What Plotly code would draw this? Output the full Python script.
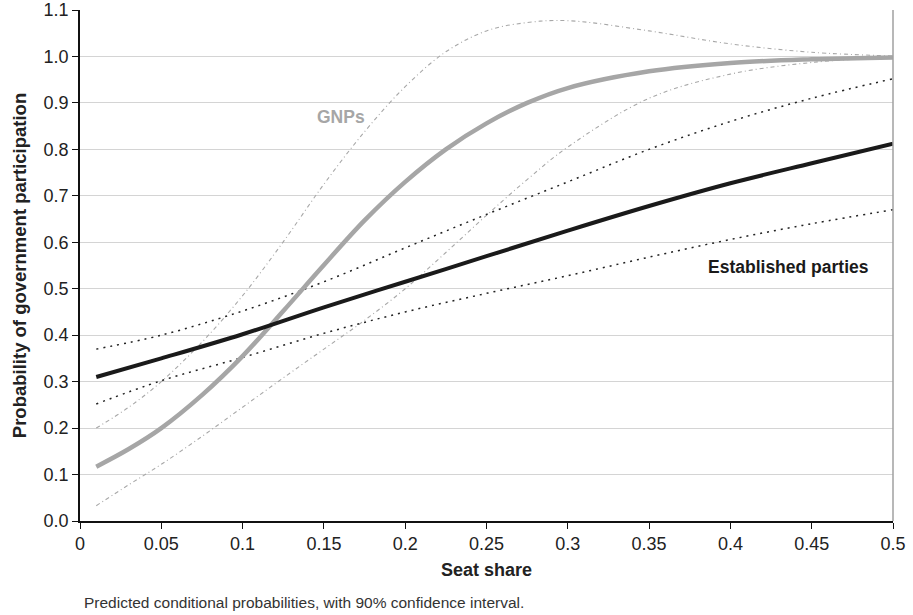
import plotly.graph_objects as go

# Seat share values (x) for each series
x_est = [0.01, 0.05, 0.1, 0.15, 0.2, 0.25, 0.3, 0.35, 0.4, 0.45, 0.5]
est_mean = [0.31, 0.35, 0.402, 0.46, 0.515, 0.57, 0.625, 0.678, 0.727, 0.77, 0.812]
est_upper = [0.37, 0.40, 0.452, 0.515, 0.588, 0.66, 0.73, 0.80, 0.86, 0.91, 0.952]
est_lower = [0.252, 0.302, 0.352, 0.404, 0.45, 0.49, 0.528, 0.568, 0.606, 0.64, 0.67]

x_gnp = [0.01, 0.03, 0.05, 0.075, 0.1, 0.125, 0.15, 0.175, 0.2, 0.225, 0.25,
         0.275, 0.3, 0.35, 0.4, 0.45, 0.5]
gnp_mean = [0.117, 0.155, 0.2, 0.271, 0.355, 0.452, 0.551, 0.647, 0.73, 0.8, 0.856,
            0.9, 0.932, 0.968, 0.986, 0.994, 0.998]
gnp_upper = [0.20, 0.245, 0.30, 0.385, 0.485, 0.601, 0.725, 0.838, 0.935, 1.01, 1.055,
             1.073, 1.077, 1.055, 1.027, 1.009, 1.001]
gnp_lower = [0.033, 0.078, 0.122, 0.182, 0.245, 0.308, 0.37, 0.432, 0.5, 0.578, 0.658,
             0.735, 0.805, 0.91, 0.962, 0.987, 0.998]

x_ticks = [0, 0.05, 0.1, 0.15, 0.2, 0.25, 0.3, 0.35, 0.4, 0.45, 0.5]
x_tick_labels = ["0", "0.05", "0.1", "0.15", "0.2", "0.25", "0.3", "0.35", "0.4", "0.45", "0.5"]
y_ticks = [0.0, 0.1, 0.2, 0.3, 0.4, 0.5, 0.6, 0.7, 0.8, 0.9, 1.0, 1.1]
y_tick_labels = ["0.0", "0.1", "0.2", "0.3", "0.4", "0.5", "0.6", "0.7", "0.8", "0.9", "1.0", "1.1"]

FONT = "Liberation Sans, Arial, Helvetica, sans-serif"
fig = go.Figure()

# GNP confidence interval
for yv in (gnp_upper, gnp_lower):
    fig.add_trace(go.Scatter(x=x_gnp, y=yv, mode="lines", line_shape="spline",
                             line=dict(color="#a8a8a8", width=1.1, dash="4px,3px,1px,3px"),
                             showlegend=False, hoverinfo="skip"))
# Established parties confidence interval
for yv in (est_upper, est_lower):
    fig.add_trace(go.Scatter(x=x_est, y=yv, mode="lines", line_shape="spline",
                             line=dict(color="#222222", width=1.5, dash="2px,5px"),
                             showlegend=False, hoverinfo="skip"))
fig.add_trace(go.Scatter(x=x_gnp, y=gnp_mean, mode="lines", line_shape="spline",
                         line=dict(color="#a6a6a6", width=4.5), showlegend=False))
fig.add_trace(go.Scatter(x=x_est, y=est_mean, mode="lines", line_shape="spline",
                         line=dict(color="#1a1a1a", width=4), showlegend=False))

fig.add_annotation(x=0.1605, y=0.87, text="<b>GNPs</b>", showarrow=False,
                   font=dict(family=FONT, size=17.5, color="#a6a6a6"))
fig.add_annotation(x=0.4356, y=0.5475, text="<b>Established parties</b>", showarrow=False,
                   font=dict(family=FONT, size=17.5, color="#1a1a1a"))
fig.add_annotation(x=0.0025, y=-0.139, xref="paper", yref="paper", xanchor="left", yanchor="top",
                   text="Predicted conditional probabilities, with 90% confidence interval.",
                   showarrow=False, font=dict(family=FONT, size=15.5, color="#333333"))

# right border of plot area
fig.add_shape(type="line", xref="paper", yref="paper", x0=1, x1=1, y0=0, y1=1,
              line=dict(color="#a0a0a0", width=1.5))

fig.update_layout(
    width=913, height=615,
    margin=dict(l=80, r=20, t=10, b=94, autoexpand=False),
    plot_bgcolor="white", paper_bgcolor="white",
    font=dict(family=FONT, size=18, color="#222222"),
    xaxis=dict(range=[0, 0.5], tickvals=x_ticks, ticktext=x_tick_labels,
               showgrid=False, zeroline=False, showline=True, linecolor="#111111",
               linewidth=1.5, ticks="outside", ticklen=6, tickcolor="#111111",
               automargin=False, ticklabeloverflow="allow",
               title=dict(text="<b>Seat share</b>", font=dict(size=18), standoff=10)),
    yaxis=dict(range=[0, 1.1], tickvals=y_ticks, ticktext=y_tick_labels,
               showgrid=True, gridcolor="#d4d4d4", gridwidth=1, zeroline=False,
               showline=True, linecolor="#111111", linewidth=1.5,
               ticks="outside", ticklen=6, tickcolor="#111111", automargin=False,
               ticklabeloverflow="allow",
               title=dict(text="<b>Probability of government participation</b>",
                          font=dict(size=18.5), standoff=12)),
)
fig.write_html("out.html", config={"displayModeBar": False},
               post_script="document.body.style.margin='0';document.body.style.overflow='hidden';")
